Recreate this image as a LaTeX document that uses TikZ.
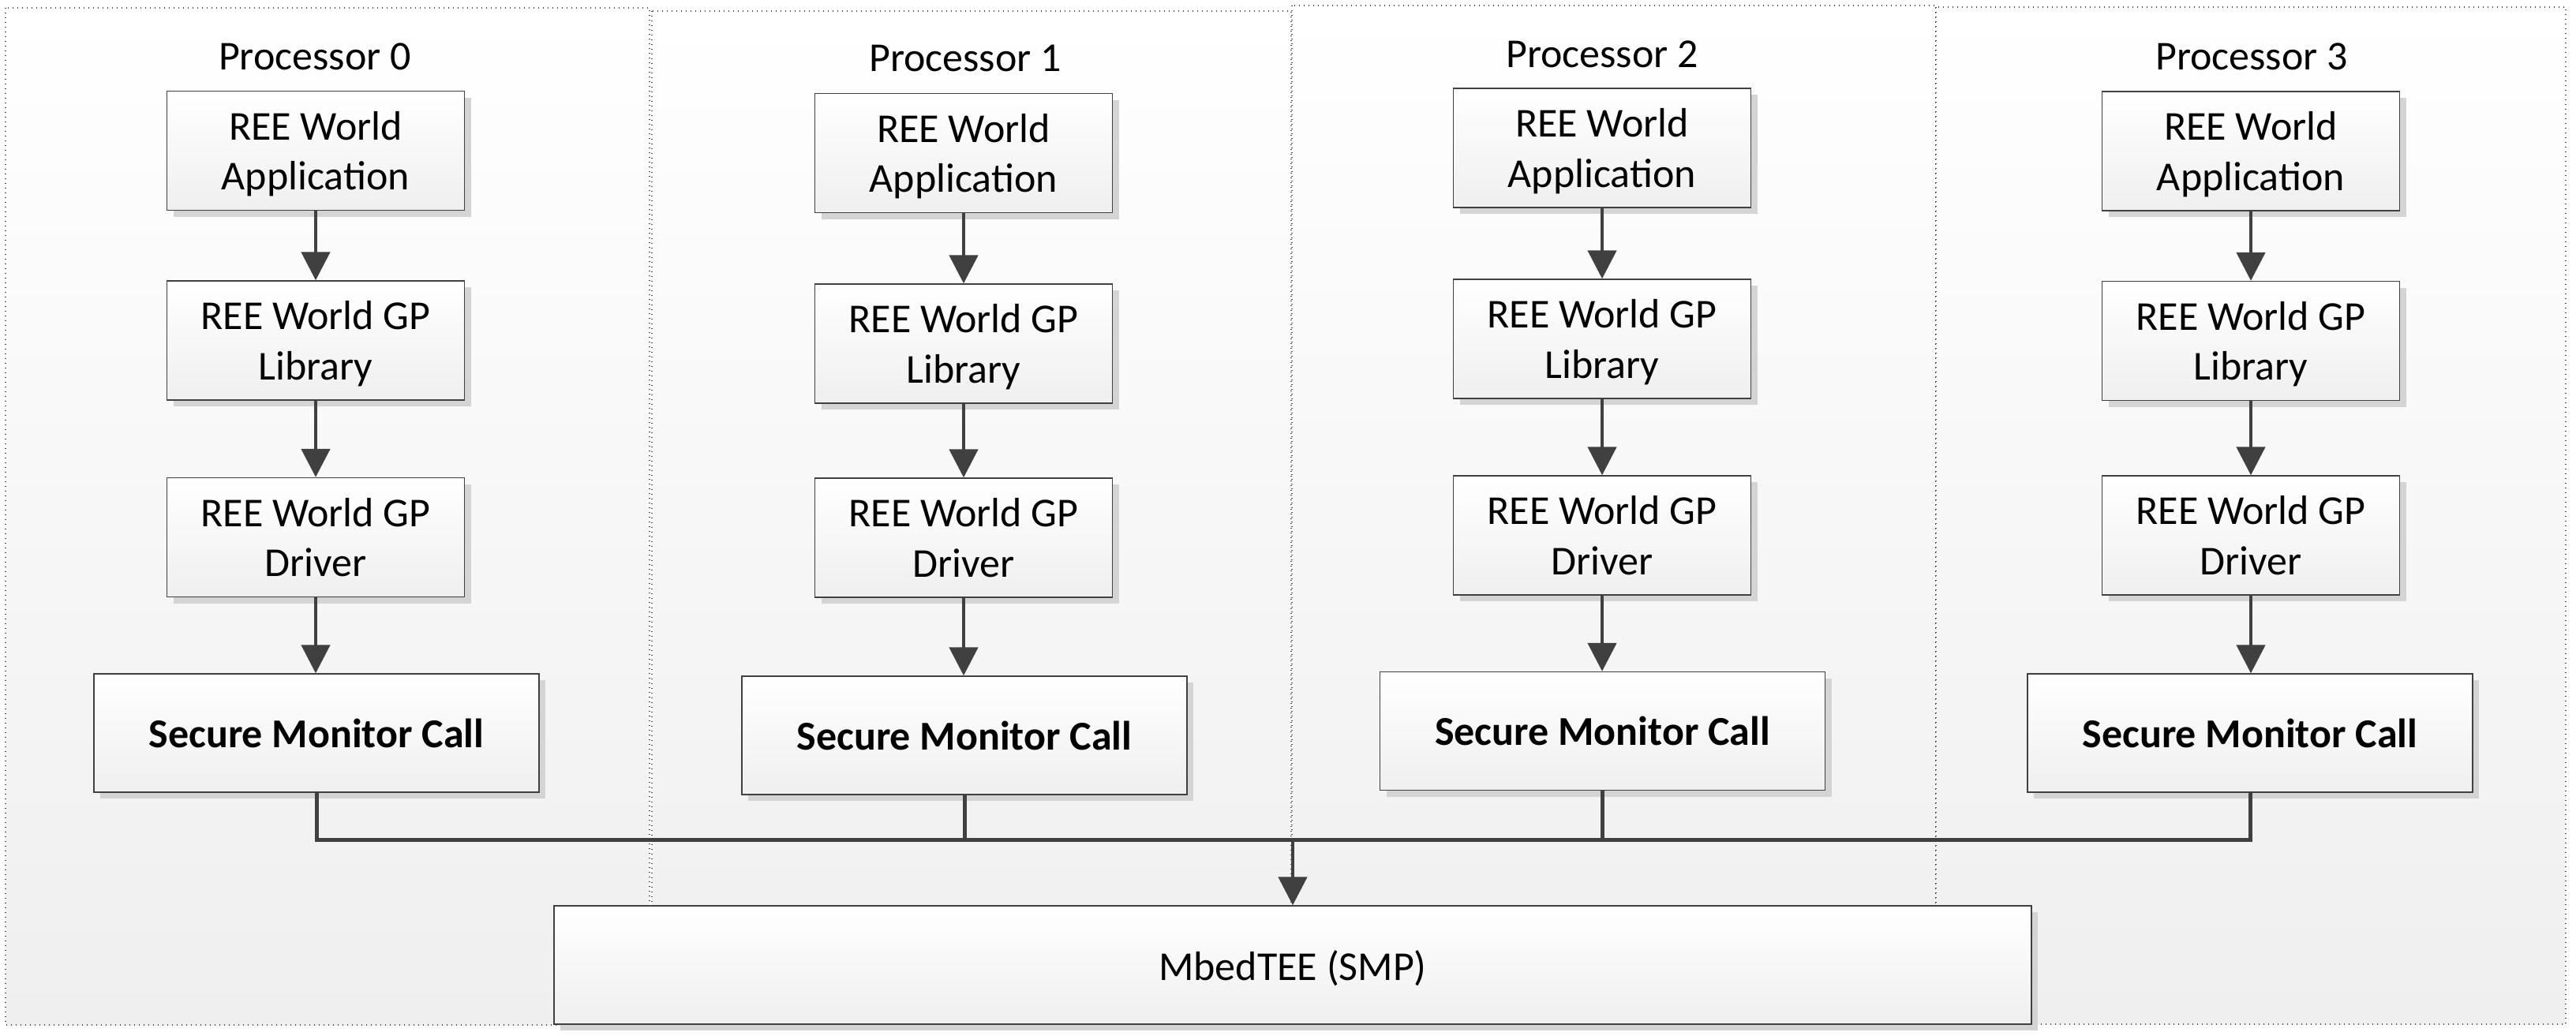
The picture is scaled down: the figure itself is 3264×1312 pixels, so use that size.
\documentclass[tikz,border=0pt]{standalone}
\usepackage{fontspec}
\setmainfont{Carlito}
\usetikzlibrary{arrows.meta,shadows}
\definecolor{linec}{HTML}{404040}
\definecolor{shadc}{HTML}{D4D4D4}
\definecolor{panelb}{HTML}{EFEFEF}
\definecolor{dotc}{HTML}{4A4A4A}
\begin{document}
\begin{tikzpicture}[x=0.5pt,y=-0.5pt,
  panel/.style={draw=dotc, line width=0.6pt, dash pattern=on 0.6pt off 2.4pt, top color=white, bottom color=panelb},
  basebox/.style={draw=linec, line width=0.7pt, top color=white, bottom color=panelb, inner sep=0pt, align=center, text depth=0pt,
    font=\fontsize{26pt}{31.7pt}\selectfont,
    drop shadow={shadow xshift=4pt, shadow yshift=-4pt, fill=shadc, opacity=1, draw=none}},
  box/.style={basebox, minimum width=188.5pt, minimum height=75.5pt},
  smc/.style={basebox, minimum width=282pt, minimum height=75pt, font=\fontsize{26pt}{31.7pt}\selectfont\bfseries},
  tee/.style={basebox, minimum width=936pt, minimum height=75pt},
  plabel/.style={anchor=base, inner sep=0pt, font=\fontsize{26pt}{31.7pt}\selectfont},
  arr/.style={draw=linec, line width=2.4pt, -{Triangle[length=18pt,width=18pt]}},
  conn/.style={draw=linec, line width=2.5pt}]
\useasboundingbox (0,0) rectangle (3264,1312);
\fill[white] (0,0) rectangle (3264,1312);
% panels
\path[panel] (7,10) rectangle (823,1299);
\path[panel] (826,14) rectangle (1636,1299);
\path[panel] (1637,7) rectangle (2453,1299);
\path[panel] (2453,9) rectangle (3251,1298);
% labels
\node[plabel] (p0) at (399,88) {Processor 0};
\node[plabel] (p1) at (1223,90.5) {Processor 1};
\node[plabel] (p2) at (2030,85) {Processor 2};
\node[plabel] (p3) at (2853,88) {Processor 3};
% processor 0
\node[box] (a0) at (400,191) {REE World\\Application};
\node[box] (l0) at (400,431.5) {REE World GP\\Library};
\node[box] (d0) at (400,681) {REE World GP\\Driver};
\node[smc] (s0) at (401,929) {Secure Monitor Call};
% processor 1
\node[box] (a1) at (1221,194) {REE World\\Application};
\node[box] (l1) at (1221,435.5) {REE World GP\\Library};
\node[box] (d1) at (1221,681.5) {REE World GP\\Driver};
\node[smc] (s1) at (1222,932) {Secure Monitor Call};
% processor 2
\node[box] (a2) at (2030,187.5) {REE World\\Application};
\node[box] (l2) at (2030,429.5) {REE World GP\\Library};
\node[box] (d2) at (2030,678.5) {REE World GP\\Driver};
\node[smc] (s2) at (2030.5,926.5) {Secure Monitor Call};
% processor 3
\node[box] (a3) at (2852,191.5) {REE World\\Application};
\node[box] (l3) at (2852,432) {REE World GP\\Library};
\node[box] (d3) at (2852,678.5) {REE World GP\\Driver};
\node[smc] (s3) at (2851,929) {Secure Monitor Call};
% TEE
\node[tee] (tee) at (1638,1223) {MbedTEE (SMP)};
% arrows
\foreach \i in {0,1,2,3}{
  \draw[arr] (a\i.south) -- (a\i.south |- l\i.north);
  \draw[arr] (l\i.south) -- (l\i.south |- d\i.north);
  \draw[arr] (d\i.south) -- (d\i.south |- s\i.north);
}
\coordinate (bus) at (1638,1064);
\draw[conn] (s0.south) -- (s0.south |- bus) -- (s3.south |- bus) -- (s3.south);
\draw[conn] (s1.south) -- (s1.south |- bus);
\draw[conn] (s2.south) -- (s2.south |- bus);
\draw[arr] (bus) -- (tee.north);
\end{tikzpicture}
\end{document}
